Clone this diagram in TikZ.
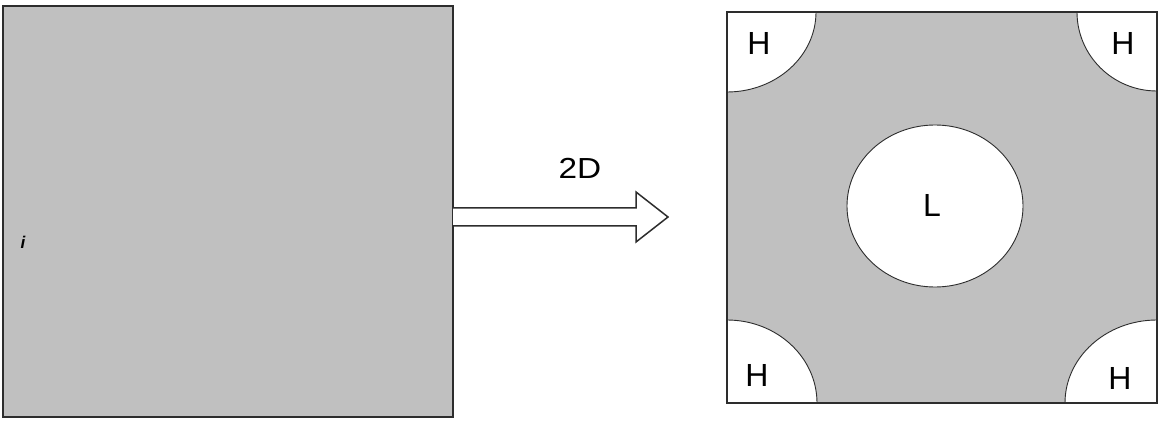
\documentclass[tikz,border=0pt]{standalone}
\usepackage{fontspec}
\setmainfont{Liberation Sans}
\definecolor{fillgray}{RGB}{192,192,192}
\definecolor{edge}{RGB}{45,45,45}
\begin{document}
\begin{tikzpicture}[x=1pt,y=1pt,
  box/.style={draw=edge,fill=fillgray,inner sep=0pt,outer sep=0pt},
  hole/.style={draw=edge,fill=white,line width=0.9pt},
  lbl/.style={font=\fontsize{32}{32}\selectfont,text=black,inner sep=0pt}]
\useasboundingbox (0,0) rectangle (1168,421);
% left block
\node[box,line width=2pt,minimum width=450pt,minimum height=411pt] (src) at (228,209.5) {};
\node[font=\fontsize{17}{17}\selectfont\bfseries\itshape,inner sep=0pt] (mark) at (23,179) {i};
% right block
\node[box,line width=1.1pt,minimum width=430pt,minimum height=391pt] (dst) at (942,213.5) {};
% corner holes
\fill[white] (dst.north west) -- ++(89,0) arc[start angle=0,end angle=-90,x radius=89,y radius=80] -- cycle;
\draw[hole,fill=none] (dst.north west) ++(89,0) arc[start angle=0,end angle=-90,x radius=89,y radius=80];
\fill[white] (dst.north east) -- ++(-80,0) arc[start angle=180,end angle=270,x radius=80,y radius=79] -- cycle;
\draw[hole,fill=none] (dst.north east) ++(-80,0) arc[start angle=180,end angle=270,x radius=80,y radius=79];
\fill[white] (dst.south west) -- ++(90,0) arc[start angle=0,end angle=90,x radius=90,y radius=83] -- cycle;
\draw[hole,fill=none] (dst.south west) ++(90,0) arc[start angle=0,end angle=90,x radius=90,y radius=83];
\fill[white] (dst.south east) -- ++(-92,0) arc[start angle=180,end angle=90,x radius=92,y radius=83] -- cycle;
\draw[hole,fill=none] (dst.south east) ++(-92,0) arc[start angle=180,end angle=90,x radius=92,y radius=83];
\draw[edge,line width=1.1pt] (dst.north west) rectangle (dst.south east);
% central circle
\draw[hole] (935,215) ellipse[x radius=88,y radius=81];
\node[lbl] (L) at (932,216) {L};
\node[lbl] (h1) at (759,378) {H};
\node[lbl] (h2) at (1123,378) {H};
\node[lbl] (h3) at (757,46) {H};
\node[lbl] (h4) at (1120,43) {H};
% arrow
\coordinate (tip) at (668,204);
\draw[edge,line width=1.5pt,fill=white,line join=miter]
  (src.east |- 0,213) -- (636,213) -- (636,229) -- (tip) -- (636,179) -- (636,195) -- (src.east |- 0,195);
\node[lbl,font=\fontsize{29}{29}\selectfont,xscale=1.15] (lab) at (580,253) {2D};
\end{tikzpicture}
\end{document}
